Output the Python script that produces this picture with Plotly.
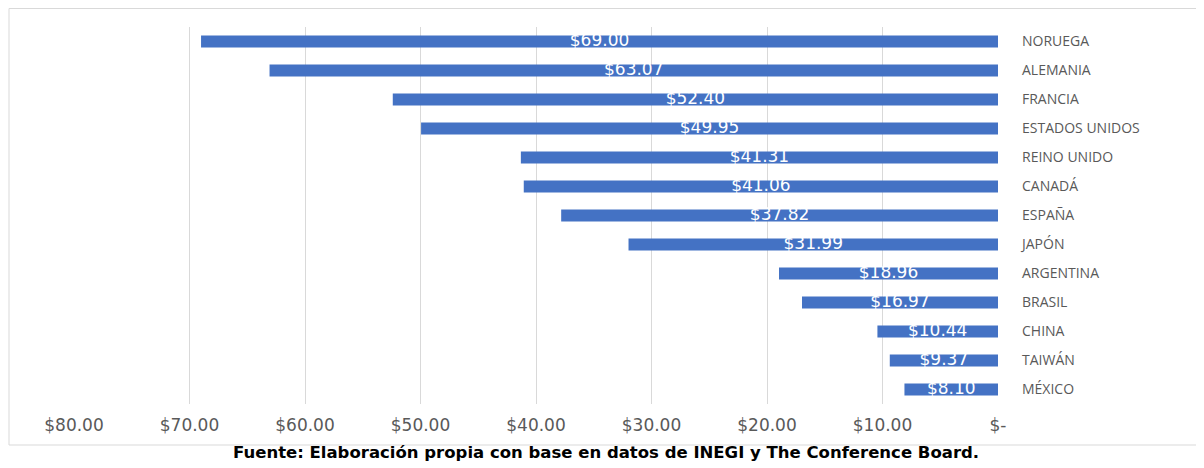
import plotly.graph_objects as go

countries = ["NORUEGA", "ALEMANIA", "FRANCIA", "ESTADOS UNIDOS", "REINO UNIDO", "CANADÁ",
             "ESPAÑA", "JAPÓN", "ARGENTINA", "BRASIL", "CHINA", "TAIWÁN", "MÉXICO"]
values = [69.00, 63.07, 52.40, 49.95, 41.31, 41.06, 37.82, 31.99, 18.96, 16.97, 10.44, 9.37, 8.10]
tick_vals = [80, 70, 60, 50, 40, 30, 20, 10, 0]
tick_text = ["$80.00", "$70.00", "$60.00", "$50.00", "$40.00", "$30.00", "$20.00", "$10.00", "$-"]
source = "Fuente: Elaboración propia con base en datos de INEGI y The Conference Board."

labels = [f"${v:.2f}" for v in values]

fig = go.Figure()
fig.add_trace(go.Bar(
    x=values, y=countries, orientation="h",
    marker=dict(color="#4472C4", line=dict(width=0)),
    width=0.42, hoverinfo="skip",
))
fig.add_trace(go.Scatter(
    x=[v / 2 for v in values], y=countries, mode="text", text=labels,
    textfont=dict(color="white", size=17, family="DejaVu Sans"),
    textposition="middle center", hoverinfo="skip",
))

# page body has an 8px margin; positions below are in page pixels
OFF = 8
W, H = 1196, 460
L, R, T, B = 74 - OFF, W - (998 - OFF), 27 - OFF, H - (404 - OFF)
pw, ph = W - L - R, H - T - B

def px_x(x):
    return (x - OFF - L) / pw

def px_y(y):
    return (H - B - (y - OFF)) / ph

fig.update_layout(
    width=W, height=H,
    margin=dict(l=L, r=R, t=T, b=B, autoexpand=False),
    paper_bgcolor="white", plot_bgcolor="white",
    showlegend=False,
    xaxis=dict(
        range=[80, 0], tickvals=tick_vals, ticktext=tick_text,
        showgrid=True, gridcolor="#d9d9d9", gridwidth=1,
        zeroline=False, showline=False, ticks="", automargin=False,
        tickfont=dict(size=17, color="#595959", family="DejaVu Sans"),
        ticklabelstandoff=9,
    ),
    yaxis=dict(
        categoryorder="array", categoryarray=countries[::-1],
        side="right", showgrid=False, zeroline=False, showline=False, ticks="",
        automargin=False,
        tickfont=dict(size=14, color="#595959", family="Open Sans"),
        ticklabelstandoff=23,
        range=[-0.5, 12.5],
    ),
    shapes=[dict(
        type="rect", xref="paper", yref="paper",
        x0=px_x(9), x1=px_x(1201), y0=px_y(445), y1=px_y(8.5),
        line=dict(color="#d9d9d9", width=1), fillcolor="rgba(0,0,0,0)", layer="below",
    )],
    annotations=[dict(
        text="<b>" + source + "</b>", xref="paper", yref="paper",
        x=px_x(606), y=px_y(452), xanchor="center", yanchor="middle",
        showarrow=False, font=dict(size=16.5, color="black", family="DejaVu Sans"),
    )],
)

fig.write_html("out.html")
